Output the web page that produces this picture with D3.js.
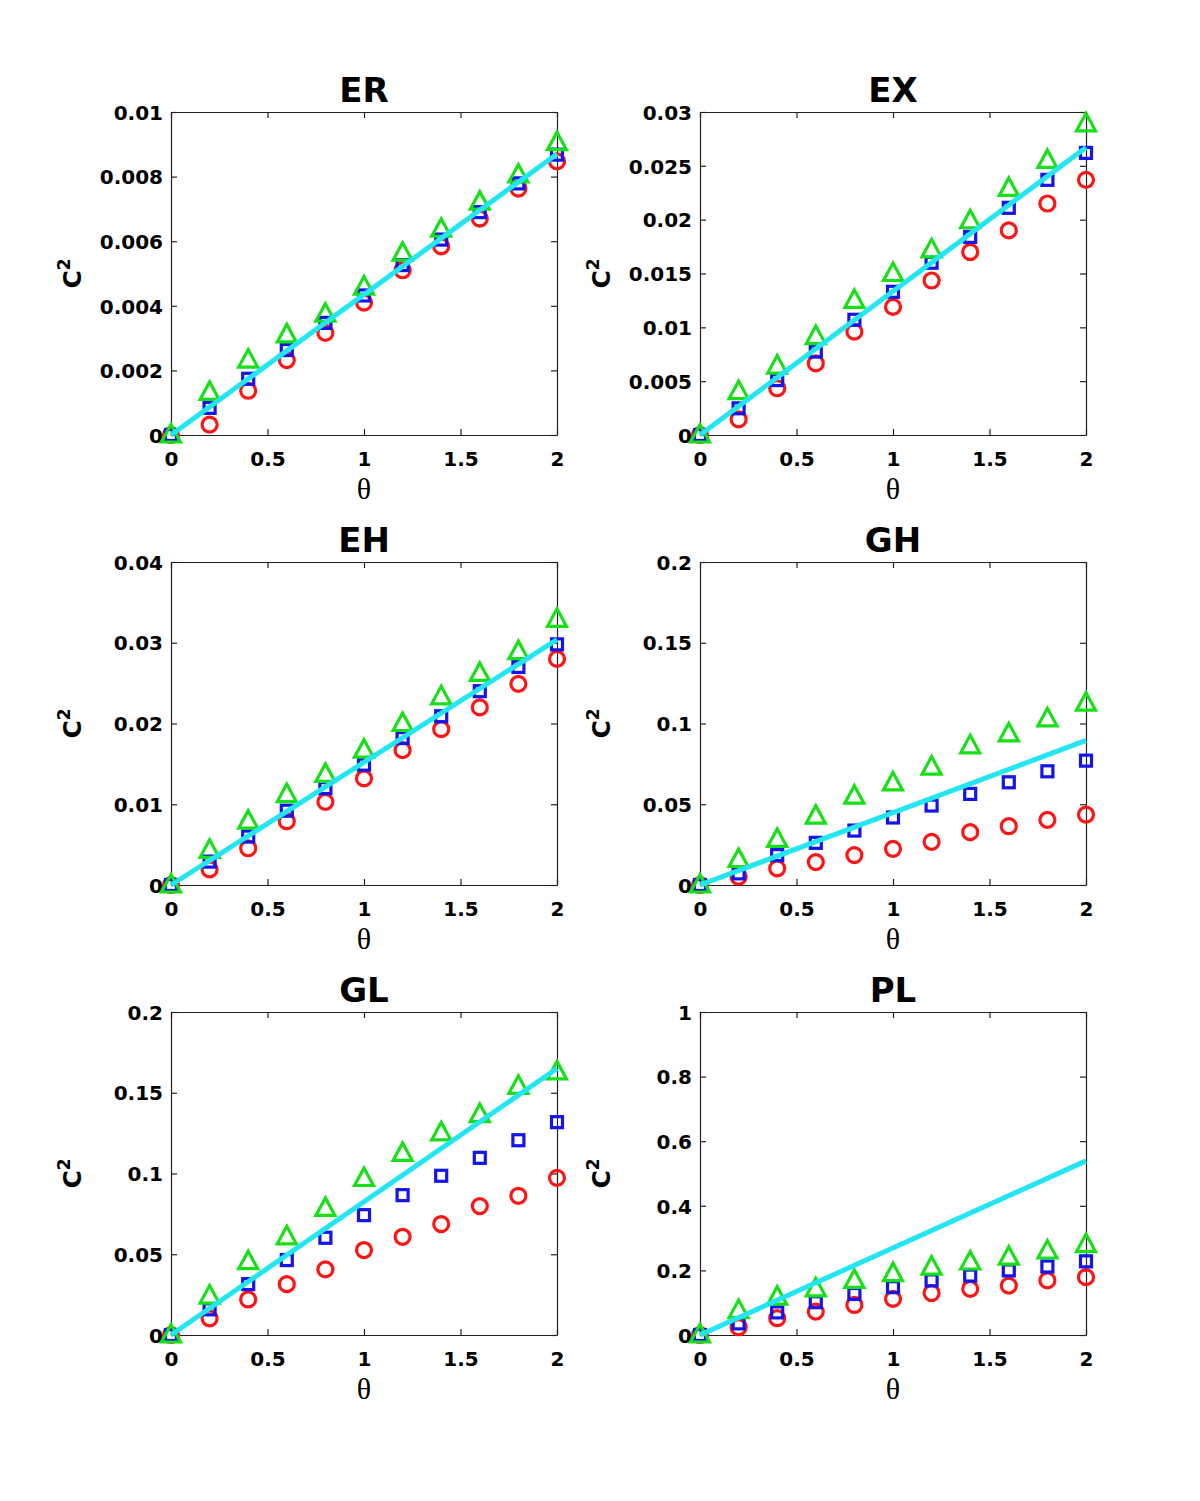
<!DOCTYPE html>
<html>
<head>
<meta charset="utf-8">
<script src="https://cdn.jsdelivr.net/npm/d3@7"></script>
<style>
  body { margin: 0; background: #fff; }
  svg { display: block; }
</style>
</head>
<body>
<script>
// theta values shared by every panel
const theta = [0, 0.2, 0.4, 0.6, 0.8, 1.0, 1.2, 1.4, 1.6, 1.8, 2.0];

const panelNames = ["ER", "EX", "EH", "GH", "GL", "PL"];
const xTicks = [0, 0.5, 1, 1.5, 2];

// y tick values per panel (last value is the top of the axis)
const yTicks = [
  [0, 0.002, 0.004, 0.006, 0.008, 0.01],
  [0, 0.005, 0.01, 0.015, 0.02, 0.025, 0.03],
  [0, 0.01, 0.02, 0.03, 0.04],
  [0, 0.05, 0.1, 0.15, 0.2],
  [0, 0.05, 0.1, 0.15, 0.2],
  [0, 0.2, 0.4, 0.6, 0.8, 1]
];

// red circles
const circles = [
  [0, 0.00032, 0.00137, 0.00232, 0.00316, 0.0041, 0.0051, 0.00584, 0.0067, 0.00763, 0.00847],
  [0, 0.00146, 0.00434, 0.00666, 0.0096, 0.0119, 0.01435, 0.017, 0.019, 0.0215, 0.0237],
  [0, 0.00194, 0.00455, 0.0079, 0.0103, 0.0132, 0.0167, 0.0193, 0.022, 0.0249, 0.028],
  [0, 0.0051, 0.0103, 0.0142, 0.0185, 0.0224, 0.0267, 0.0327, 0.0364, 0.0403, 0.0436],
  [0, 0.0103, 0.022, 0.0315, 0.0406, 0.0526, 0.0608, 0.0687, 0.0798, 0.0862, 0.0973],
  [0, 0.024, 0.052, 0.0725, 0.093, 0.112, 0.13, 0.143, 0.153, 0.169, 0.179]
];

// blue squares
const squares = [
  [0, 0.00084, 0.00174, 0.00263, 0.00347, 0.00432, 0.00526, 0.00605, 0.0069, 0.00779, 0.00868],
  [0, 0.00248, 0.0051, 0.00775, 0.0107, 0.0133, 0.016, 0.0184, 0.0211, 0.0237, 0.0262],
  [0, 0.0029, 0.006, 0.0092, 0.012, 0.0149, 0.0182, 0.0209, 0.024, 0.027, 0.0298],
  [0, 0.0072, 0.0185, 0.0261, 0.0337, 0.0418, 0.0492, 0.0564, 0.0636, 0.0704, 0.077],
  [0, 0.0159, 0.0315, 0.0464, 0.0602, 0.0742, 0.0866, 0.0986, 0.1097, 0.1206, 0.1318],
  [0, 0.036, 0.07, 0.1016, 0.127, 0.148, 0.169, 0.184, 0.2, 0.212, 0.228]
];

// green triangles
const triangles = [
  [0, 0.00132, 0.00232, 0.0031, 0.00374, 0.00458, 0.00563, 0.00637, 0.00721, 0.00805, 0.00905],
  [0, 0.00403, 0.0064, 0.00914, 0.0125, 0.015, 0.0172, 0.0199, 0.0229, 0.0255, 0.0289],
  [0, 0.0043, 0.0079, 0.0112, 0.0137, 0.0167, 0.02, 0.0233, 0.0262, 0.0289, 0.0329],
  [0, 0.0158, 0.0282, 0.0426, 0.055, 0.0632, 0.073, 0.0862, 0.0936, 0.1029, 0.1126],
  [0, 0.0241, 0.0454, 0.0608, 0.0784, 0.0969, 0.1124, 0.1252, 0.1365, 0.154, 0.1629],
  [0, 0.0756, 0.117, 0.143, 0.169, 0.19, 0.21, 0.226, 0.241, 0.26, 0.28]
];

// cyan theory line, read at its two ends
const lineTheta = [0, 2];
const lineC2 = [
  [0, 0.0087],
  [0, 0.0267],
  [0, 0.0304],
  [0, 0.0895],
  [0, 0.165],
  [0, 0.539]
];

const width = 1200, height = 1501;
const colLeft = [171, 700];
const rowTop = [112, 562, 1012];
const plotW = 386, plotH = 323;

const svg = d3.select("body").append("svg")
  .attr("width", width)
  .attr("height", height);

const boldFont = "'DejaVu Sans', Verdana, sans-serif";

panelNames.forEach((name, i) => {
  const left = colLeft[i % 2];
  const top = rowTop[Math.floor(i / 2)];
  const ticks = yTicks[i];

  const x = d3.scaleLinear().domain([0, 2]).range([0, plotW]);
  const y = d3.scaleLinear().domain([0, ticks[ticks.length - 1]]).range([plotH, 0]);

  const g = svg.append("g").attr("transform", `translate(${left},${top})`);

  // axes, ticks pointing inward
  g.append("g").attr("transform", `translate(0,${plotH})`)
    .call(d3.axisBottom(x).tickValues(xTicks).tickFormat(d3.format("")).tickSize(-6).tickSizeOuter(0).tickPadding(17));
  g.append("g")
    .call(d3.axisTop(x).tickValues(xTicks).tickFormat("").tickSize(-6).tickSizeOuter(0));
  const leftAx = g.append("g")
    .call(d3.axisLeft(y).tickValues(ticks).tickFormat(d => String(d)).tickSize(-6).tickSizeOuter(0).tickPadding(8));
  g.append("g").attr("transform", `translate(${plotW},0)`)
    .call(d3.axisRight(y).tickValues(ticks).tickFormat("").tickSize(-6).tickSizeOuter(0));

  g.selectAll(".domain, .tick line").attr("stroke", "#222").attr("stroke-width", 1.2);
  g.selectAll(".tick text")
    .attr("font-family", boldFont)
    .attr("font-weight", "bold")
    .attr("font-size", 20)
    .attr("fill", "#000");
  leftAx.selectAll(".tick text").attr("dy", "0.36em");

  // title
  g.append("text")
    .attr("x", plotW / 2).attr("y", -10)
    .attr("text-anchor", "middle")
    .attr("font-family", boldFont)
    .attr("font-weight", "bold")
    .attr("font-size", 34)
    .text(name);

  // x label
  g.append("text")
    .attr("x", plotW / 2).attr("y", plotH + 64)
    .attr("text-anchor", "middle")
    .attr("font-family", "'Liberation Serif', 'Times New Roman', serif")
    .attr("font-size", 30)
    .text("θ");

  // y label C^2
  const yl = g.append("text")
    .attr("transform", `translate(-90,${plotH / 2}) rotate(-90)`)
    .attr("text-anchor", "middle")
    .attr("font-family", boldFont)
    .attr("font-weight", "bold")
    .attr("font-size", 25);
  yl.append("tspan").text("C");
  yl.append("tspan").attr("dy", -11).attr("font-size", 17).text("2");

  // markers
  g.append("g").selectAll("circle")
    .data(circles[i])
    .join("circle")
    .attr("cx", (d, j) => x(theta[j]))
    .attr("cy", d => y(d))
    .attr("r", 7.5)
    .attr("fill", "none")
    .attr("stroke", "#ff1414")
    .attr("stroke-width", 3.2);

  g.append("g").selectAll("rect")
    .data(squares[i])
    .join("rect")
    .attr("x", (d, j) => x(theta[j]) - 5.5)
    .attr("y", d => y(d) - 5.5)
    .attr("width", 11)
    .attr("height", 11)
    .attr("fill", "none")
    .attr("stroke", "#1414ee")
    .attr("stroke-width", 3.2);

  g.append("g").selectAll("path")
    .data(triangles[i])
    .join("path")
    .attr("transform", (d, j) => `translate(${x(theta[j])},${y(d)})`)
    .attr("d", "M0,-10.5L9.5,7L-9.5,7Z")
    .attr("fill", "none")
    .attr("stroke", "#18e018")
    .attr("stroke-width", 3.2)
    .attr("stroke-linejoin", "miter");

  // theory line
  g.append("path")
    .datum(lineC2[i])
    .attr("fill", "none")
    .attr("stroke", "#22e6f2")
    .attr("stroke-width", 5)
    .attr("d", d3.line().x((d, j) => x(lineTheta[j])).y(d => y(d)));
});
</script>
</body>
</html>
